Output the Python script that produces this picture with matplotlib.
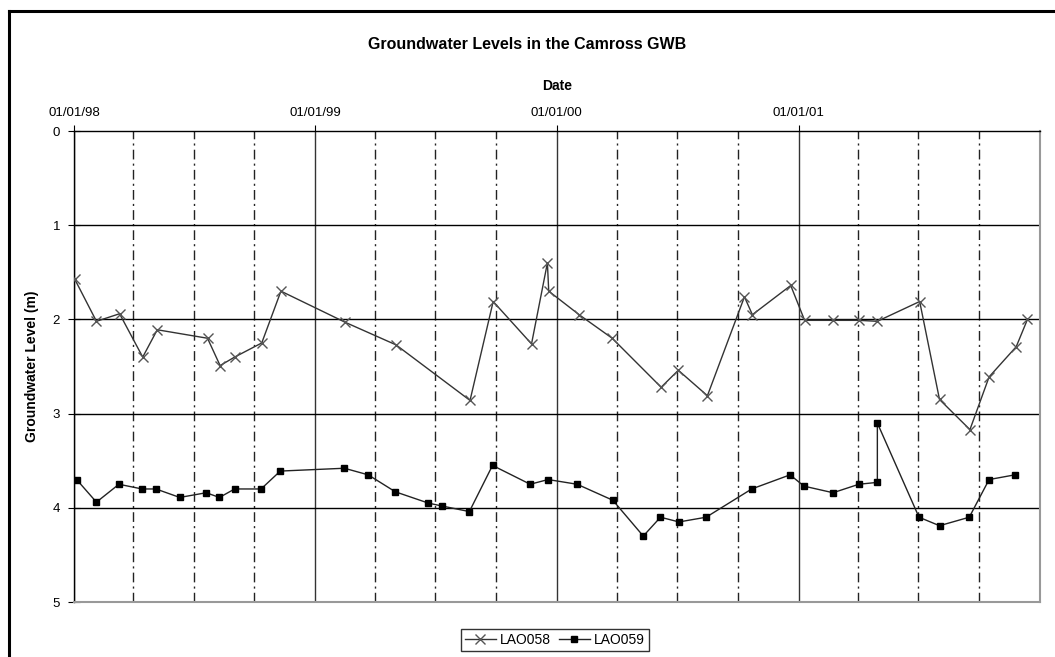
"""
Groundwater levels in the Camross GWB, monitoring wells LAO058 and LAO059.
Output: out.png
"""
import matplotlib
matplotlib.use("Agg")
import matplotlib.pyplot as plt
import matplotlib.dates as mdates
from matplotlib.lines import Line2D
import numpy as np

plt.rcParams["font.family"] = ["Liberation Sans", "DejaVu Sans"]

# ── Data ────────────────────────────────────────────────────────────────────

lao058_dates = [
    "1998-01-02", "1998-02-04", "1998-03-11", "1998-04-15", "1998-05-07",
    "1998-07-22", "1998-08-10", "1998-09-01", "1998-10-12", "1998-11-10",
    "1999-02-15", "1999-05-03", "1999-08-23", "1999-09-27", "1999-11-24",
    "1999-12-18", "1999-12-20", "2000-02-04", "2000-03-25", "2000-06-07",
    "2000-07-03", "2000-08-16", "2000-10-11", "2000-10-23", "2000-12-20",
    "2001-01-10", "2001-02-22", "2001-04-02", "2001-04-30", "2001-07-03",
    "2001-08-02", "2001-09-17", "2001-10-16", "2001-11-26", "2001-12-13",
]
lao058_level = [
    1.57, 2.02, 1.94, 2.40, 2.11,
    2.20, 2.49, 2.40, 2.25, 1.70,
    2.03, 2.27, 2.86, 1.81, 2.26,
    1.40, 1.70, 1.95, 2.20, 2.72,
    2.54, 2.81, 1.76, 1.95, 1.64,
    2.01, 2.01, 2.01, 2.02, 1.81,
    2.85, 3.17, 2.61, 2.29, 2.00,
]

lao059_dates = [
    "1998-01-05", "1998-02-04", "1998-03-10", "1998-04-14", "1998-05-05",
    "1998-06-10", "1998-07-20", "1998-08-09", "1998-09-01", "1998-10-11",
    "1998-11-09", "1999-02-14", "1999-03-22", "1999-05-02", "1999-06-21",
    "1999-07-11", "1999-08-22", "1999-09-26", "1999-11-22", "1999-12-19",
    "2000-02-01", "2000-03-26", "2000-05-11", "2000-06-06", "2000-07-04",
    "2000-08-14", "2000-10-22", "2000-12-19", "2001-01-09", "2001-02-22",
    "2001-04-02", "2001-04-30", "2001-04-30", "2001-07-02", "2001-08-02",
    "2001-09-16", "2001-10-16", "2001-11-24",
]
lao059_level = [
    3.70, 3.94, 3.75, 3.80, 3.80,
    3.89, 3.84, 3.89, 3.80, 3.80,
    3.61, 3.58, 3.65, 3.83, 3.95,
    3.98, 4.04, 3.55, 3.75, 3.70,
    3.75, 3.92, 4.30, 4.10, 4.15,
    4.10, 3.80, 3.65, 3.77, 3.84,
    3.75, 3.73, 3.10, 4.10, 4.19,
    4.10, 3.70, 3.65,
]

year_ticks = ["1998-01-01", "1999-01-01", "2000-01-01", "2001-01-01"]


def main():
    d58 = np.array(lao058_dates, dtype="datetime64[D]")
    d59 = np.array(lao059_dates, dtype="datetime64[D]")
    years = np.array(year_ticks, dtype="datetime64[D]")

    fig = plt.figure(figsize=(10.55, 6.57), dpi=100)
    ax = fig.add_axes([0.0701, 0.0837, 0.9157, 0.7169])

    # ── grid: solid at years, dash-dot at quarters ─────────────────────────
    start = np.datetime64("1998-01-01")
    end = np.datetime64("2002-01-01")
    quarters = np.arange("1998-01", "2002-01", 3, dtype="datetime64[M]").astype("datetime64[D]")
    for q in quarters:
        if q in years:
            ax.axvline(q, color="#333333", lw=1.0, zorder=1)
        else:
            ax.axvline(q, color="#222222", lw=1.0, ls=(0, (7, 3, 1.5, 3)), zorder=1)
    for lvl in [1, 2, 3, 4]:
        ax.axhline(lvl, color="black", lw=1.0, zorder=1)

    ax.plot(d58, lao058_level, color="#333333", lw=1.0, marker="x",
            ms=7.5, mew=1.0, mec="#555555", label="LAO058", zorder=3)
    ax.plot(d59, lao059_level, color="#222222", lw=1.0, marker="s",
            ms=5, mfc="black", mec="black", label="LAO059", zorder=3)

    ax.set_xlim(start, end)
    ax.set_ylim(5, 0)
    ax.set_yticks([0, 1, 2, 3, 4, 5])

    ax.xaxis.tick_top()
    ax.xaxis.set_label_position("top")
    ax.set_xticks(years)
    ax.xaxis.set_major_formatter(mdates.DateFormatter("%d/%m/%y"))
    ax.tick_params(axis="x", direction="out", length=4, pad=5, labelsize=9.5)
    ax.tick_params(axis="y", direction="inout", length=8, pad=6, labelsize=9.5)

    for side in ["left", "top"]:
        ax.spines[side].set_color("black")
        ax.spines[side].set_linewidth(1.0)
    for side in ["right", "bottom"]:
        ax.spines[side].set_color("#999999")
        ax.spines[side].set_linewidth(1.5)

    ax.set_xlabel("Date", fontsize=10, fontweight="bold", labelpad=12)
    ax.set_ylabel("Groundwater Level (m)", fontsize=10, fontweight="bold", labelpad=10)
    fig.text(0.5, 0.932, "Groundwater Levels in the Camross GWB",
             ha="center", va="center", fontsize=11.5, fontweight="bold")

    leg = fig.legend(loc="center", bbox_to_anchor=(0.526, 0.026), ncol=2,
                     fontsize=10, frameon=True, fancybox=False, handlelength=2.2,
                     columnspacing=0.6, handletextpad=0.3, borderpad=0.3)
    leg.get_frame().set_edgecolor("black")
    leg.get_frame().set_linewidth(1.0)

    # chart-area border (only the top and left edges show in the picture)
    fig.add_artist(Line2D([9 / 1055, 9 / 1055], [0, 1 - 11 / 657],
                          transform=fig.transFigure, color="black", lw=2.2))
    fig.add_artist(Line2D([9 / 1055, 1], [1 - 11 / 657, 1 - 11 / 657],
                          transform=fig.transFigure, color="black", lw=2.2))

    fig.savefig("out.png", dpi=100)


if __name__ == "__main__":
    main()
